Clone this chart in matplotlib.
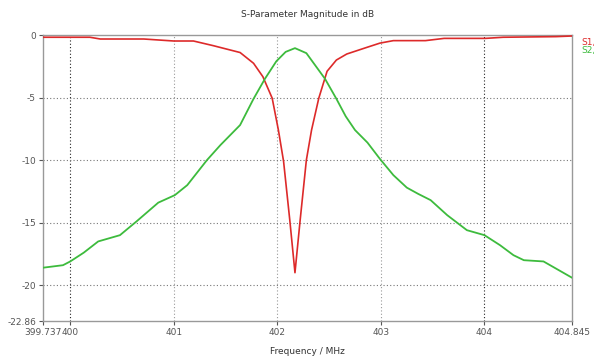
import matplotlib
matplotlib.use("Agg")
import matplotlib.pyplot as plt

# S1,1 (reflection)
s11_freq = [399.737, 400.19, 400.29, 400.71, 401.0, 401.19, 401.38, 401.64, 401.77,
            401.86, 401.95, 402.01, 402.06, 402.12, 402.17, 402.22, 402.28, 402.33,
            402.40, 402.48, 402.57, 402.67, 402.86, 402.99, 403.12, 403.43, 403.61,
            404.01, 404.18, 404.69, 404.845]
s11_db = [-0.18, -0.18, -0.32, -0.32, -0.48, -0.48, -0.85, -1.4, -2.26,
          -3.33, -5.05, -7.6, -10.1, -14.8, -19.0, -14.8, -10.0, -7.6,
          -5.05, -2.9, -2.0, -1.52, -1.0, -0.65, -0.45, -0.45, -0.27,
          -0.27, -0.18, -0.13, -0.08]

# S2,1 (transmission)
s21_freq = [399.737, 399.93, 400.0, 400.13, 400.27, 400.48, 400.64, 400.85, 401.01,
            401.13, 401.32, 401.45, 401.64, 401.77, 401.88, 401.99, 402.08, 402.17,
            402.28, 402.46, 402.57, 402.66, 402.75, 402.87, 402.99, 403.12, 403.25,
            403.36, 403.48, 403.64, 403.83, 404.0, 404.15, 404.28, 404.38, 404.57,
            404.845]
s21_db = [-18.6, -18.4, -18.1, -17.4, -16.5, -16.0, -14.9, -13.4, -12.8,
          -12.0, -10.0, -8.8, -7.2, -5.1, -3.5, -2.1, -1.35, -1.05,
          -1.45, -3.5, -5.1, -6.5, -7.6, -8.6, -9.9, -11.2, -12.2,
          -12.7, -13.2, -14.4, -15.6, -16.0, -16.8, -17.6, -18.0, -18.1,
          -19.4]

x_ticks = [399.737, 400, 401, 402, 403, 404, 404.845]
x_labels = ["399.737", "400", "401", "402", "403", "404", "404.845"]
y_ticks = [0, -5, -10, -15, -20, -22.86]
y_labels = ["0", "-5", "-10", "-15", "-20", "-22.86"]

red = "#dd2a2a"
green = "#3dbb3d"
txt = "#555555"

fig = plt.figure(figsize=(5.94, 3.59), dpi=100)
ax = fig.add_axes([43 / 594, 1 - 321 / 359, (572 - 43) / 594, (321 - 35) / 359])

ax.plot(s11_freq, s11_db, color=red, lw=1.2, zorder=3)
ax.plot(s21_freq, s21_db, color=green, lw=1.3, zorder=3)

ax.set_xlim(399.737, 404.845)
ax.set_ylim(-22.86, 0)

ax.set_xticks(x_ticks)
ax.set_xticklabels(x_labels)
ax.set_yticks(y_ticks)
ax.set_yticklabels(y_labels)
ax.tick_params(labelsize=6.5, colors=txt, length=3, width=0.8, pad=2)

# dotted grid like the original tool
for xv in [400, 401, 402, 403, 404]:
    c = "#222222" if xv in (400, 404) else "#999999"
    ax.axvline(xv, color=c, lw=0.8, ls=(0, (1, 2)), zorder=1)
for yv in [-5, -10, -15, -20]:
    ax.axhline(yv, color="#777777", lw=0.8, ls=(0, (1, 2)), zorder=1)

for side in ["left", "bottom", "top", "right"]:
    ax.spines[side].set_color("#999999")
    ax.spines[side].set_linewidth(1.0)

ax.set_title("S-Parameter Magnitude in dB", fontsize=6.5, color="#333333", pad=13)
ax.set_xlabel("Frequency / MHz", fontsize=6.5, color="#333333", labelpad=7)

fig.text(581 / 594, 1 - 42 / 359, "S1,", color=red, fontsize=6.5, va="center")
fig.text(581 / 594, 1 - 51 / 359, "S2,", color=green, fontsize=6.5, va="center")

fig.savefig("out.png", dpi=100)
